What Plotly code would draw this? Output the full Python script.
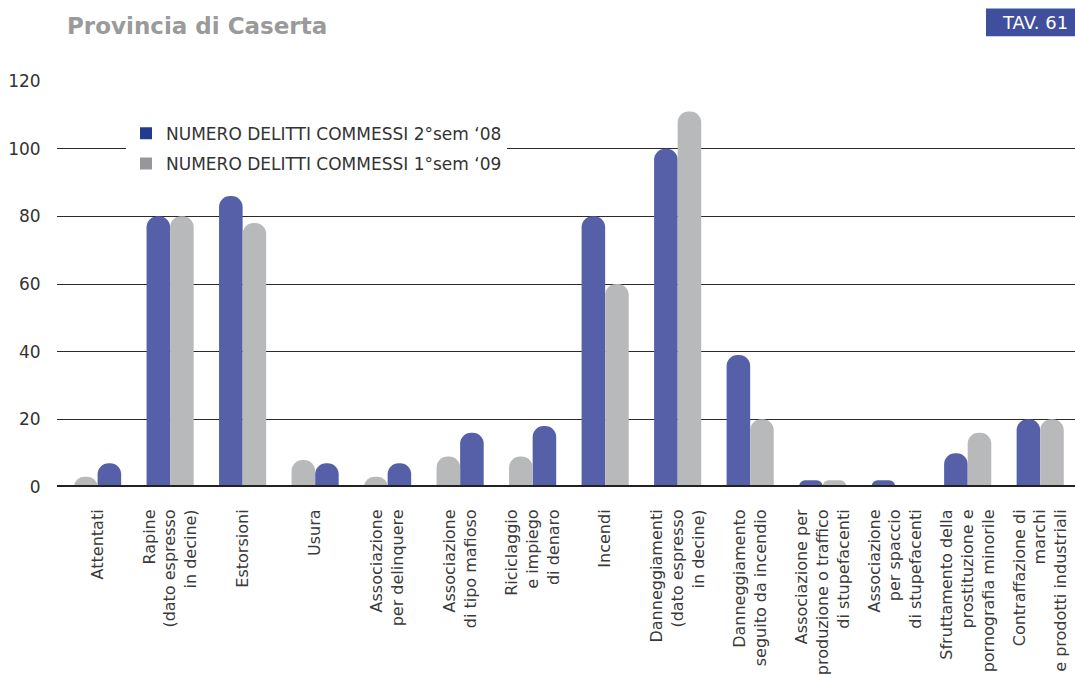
import plotly.graph_objects as go

categories = [
    "Attentati",
    "Rapine<br>(dato espresso<br>in decine)",
    "Estorsioni",
    "Usura",
    "Associazione<br>per delinquere",
    "Associazione<br>di tipo mafioso",
    "Riciclaggio<br>e impiego<br>di denaro",
    "Incendi",
    "Danneggiamenti<br>(dato espresso<br>in decine)",
    "Danneggiamento<br>seguito da incendio",
    "Associazione per<br>produzione o traffico<br>di stupefacenti",
    "Associazione<br>per spaccio<br>di stupefacenti",
    "Sfruttamento della<br>prostituzione e<br>pornografia minorile",
    "Contraffazione di<br>marchi<br>e prodotti industriali",
]
sem2_08 = [7, 80, 86, 7, 7, 16, 18, 80, 100, 39, 2, 2, 10, 20]
sem1_09 = [3, 80, 78, 8, 3, 9, 9, 60, 111, 20, 2, 0, 16, 20]
# in the original, for these categories the grey bar is drawn first (left)
grey_first = [True, False, False, True, True, True, True, False, False, False, False, False, False, False]
series_names = ["NUMERO DELITTI COMMESSI 2°sem ‘08", "NUMERO DELITTI COMMESSI 1°sem ‘09"]
y_ticks = [0, 20, 40, 60, 80, 100, 120]

BLUE_DARK = "#213b8f"
GREY_DARK = "#96979a"
BLUE_BAR = "#5560a8"
GREY_BAR = "#b8b9bb"
FONT = "DejaVu Sans, Liberation Sans, Arial, sans-serif"

W = 0.325
x_idx = list(range(len(categories)))
off_blue = [0 if g else -W for g in grey_first]
off_grey = [-W if g else 0 for g in grey_first]

fig = go.Figure()
fig.add_trace(go.Bar(x=x_idx, y=sem2_08, width=W, offset=off_blue,
                     marker=dict(color=BLUE_BAR, line=dict(width=0)),
                     showlegend=False, name=series_names[0]))
fig.add_trace(go.Bar(x=x_idx, y=sem1_09, width=W, offset=off_grey,
                     marker=dict(color=GREY_BAR, line=dict(width=0)),
                     showlegend=False, name=series_names[1]))
# legend entries
for i, (nm, col) in enumerate(zip(series_names, [BLUE_DARK, GREY_DARK])):
    fig.add_trace(go.Scatter(x=[None], y=[None], mode="markers", name=nm,
                             legendgroup=f"g{i}",
                             marker=dict(symbol="square", size=11, color=col)))

PT, PB, PL = 81, 490, 57
PH = PB - PT
PW = 1075 - PL


def py(px):
    return (PB - px) / PH


def pxp(px):
    return (px - PL) / PW


fig.update_layout(
    width=1075, height=675,
    margin=dict(l=PL, r=0, t=PT, b=675 - PB),
    plot_bgcolor="white", paper_bgcolor="white",
    barmode="overlay",
    barcornerradius="50%",
    font=dict(family=FONT, color="#333333", size=16),
    showlegend=True,
    legend=dict(x=pxp(126), y=py(116), xanchor="left", yanchor="top",
                bgcolor="white", font=dict(size=17, color="#333333"),
                itemsizing="constant", tracegroupgap=5),
    xaxis=dict(
        tickmode="array", tickvals=x_idx, ticktext=categories,
        range=[-0.56, 13.48], tickangle=-90,
        showgrid=False, zeroline=False, showline=False,
        ticks="outside", ticklen=15, tickcolor="rgba(0,0,0,0)",
        tickfont=dict(size=16, color="#3a3a3a"),
    ),
    yaxis=dict(
        range=[0, 120], tickvals=y_ticks,
        showgrid=True, gridcolor="#2b2b2b", gridwidth=1,
        zeroline=False, showline=False,
        ticks="outside", ticklen=12, tickcolor="rgba(0,0,0,0)",
        tickfont=dict(size=17, color="#333333"),
    ),
    shapes=[
        dict(type="line", xref="paper", yref="y", x0=0, x1=1, y0=0, y1=0,
             line=dict(color="#222222", width=4), layer="above"),
        dict(type="rect", xref="paper", yref="paper", x0=pxp(986), x1=1.0,
             y0=py(36), y1=py(8), fillcolor="#3f4e9d", line=dict(width=0), layer="above"),
    ],
    annotations=[
        dict(text="<b>Provincia di Caserta</b>", xref="paper", yref="paper",
             x=pxp(65), y=py(26), xanchor="left", yanchor="middle", showarrow=False,
             font=dict(family=FONT, size=23, color="#9a9a9a")),
        dict(text="TAV. 61", xref="paper", yref="paper", x=pxp(1070), y=py(22),
             xanchor="right", yanchor="middle", showarrow=False,
             font=dict(family=FONT, size=18, color="white")),
    ],
)

fig.write_html("out.html", config={"displayModeBar": False},
               post_script="document.body.style.margin='0';document.body.style.overflow='hidden';")
